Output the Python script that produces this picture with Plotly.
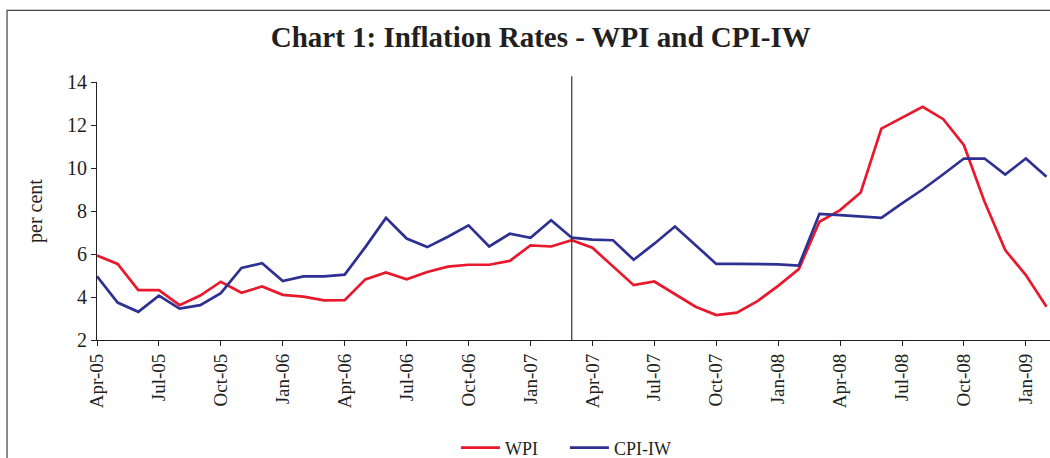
import plotly.graph_objects as go

months = ["Apr-05","May-05","Jun-05","Jul-05","Aug-05","Sep-05","Oct-05","Nov-05","Dec-05",
          "Jan-06","Feb-06","Mar-06","Apr-06","May-06","Jun-06","Jul-06","Aug-06","Sep-06","Oct-06","Nov-06","Dec-06",
          "Jan-07","Feb-07","Mar-07","Apr-07","May-07","Jun-07","Jul-07","Aug-07","Sep-07","Oct-07","Nov-07","Dec-07",
          "Jan-08","Feb-08","Mar-08","Apr-08","May-08","Jun-08","Jul-08","Aug-08","Sep-08","Oct-08","Nov-08","Dec-08",
          "Jan-09","Feb-09"]

wpi = [5.93, 5.54, 4.32, 4.32, 3.62, 4.07, 4.71, 4.20, 4.49,
       4.10, 4.02, 3.84, 3.85, 4.82, 5.14, 4.82, 5.16, 5.41, 5.50, 5.50, 5.68,
       6.40, 6.35, 6.64, 6.29, 5.44, 4.55, 4.72, 4.14, 3.55, 3.16, 3.27, 3.81,
       4.52, 5.30, 7.50, 8.04, 8.86, 11.83, 12.34, 12.85, 12.27, 11.06, 8.43, 6.18,
       5.02, 3.55]

cpi_iw = [4.96, 3.74, 3.31, 4.06, 3.46, 3.62, 4.18, 5.35, 5.57,
          4.74, 4.96, 4.96, 5.04, 6.32, 7.68, 6.72, 6.32, 6.80, 7.33, 6.35, 6.94,
          6.75, 7.57, 6.76, 6.67, 6.64, 5.73, 6.48, 7.28, 6.41, 5.54, 5.54, 5.54,
          5.52, 5.46, 7.87, 7.81, 7.76, 7.68, 8.35, 9.00, 9.71, 10.44, 10.44, 9.70,
          10.44, 9.59]

tick_labels = months[::3]
marker_month = "Mar-07"

idx = list(range(len(months)))
tick_idx = idx[::3]

RED = "#E8192C"
BLUE = "#2E3192"
FONT = "Liberation Serif"
TXT = "#231F20"

fig = go.Figure()
fig.add_trace(go.Scatter(x=idx, y=wpi, mode="lines", name="WPI",
                         line=dict(color=RED, width=2.7)))
fig.add_trace(go.Scatter(x=idx, y=cpi_iw, mode="lines", name="CPI-IW",
                         line=dict(color=BLUE, width=2.7)))

mi = months.index(marker_month)
fig.add_shape(type="line", xref="x", yref="paper", x0=mi, x1=mi, y0=0, y1=1.022,
              line=dict(color="#333333", width=1.2))

# outer frame
fig.add_shape(type="rect", xref="paper", yref="paper", x0=-0.0944, x1=1.05, y0=-0.6, y1=1.2776,
              line=dict(color="#444444", width=1.2), fillcolor="rgba(0,0,0,0)", layer="below")

fig.update_layout(
    width=1050, height=458,
    margin=dict(l=97, r=0, t=82, b=118, autoexpand=False),
    paper_bgcolor="white", plot_bgcolor="white",
    font=dict(family=FONT, color=TXT, size=19),
    title=dict(text="<b>Chart 1: Inflation Rates - WPI and CPI-IW</b>",
               x=0.515, xanchor="center", y=0.919, yanchor="middle",
               font=dict(family=FONT, size=29, color=TXT)),
    showlegend=True,
    legend=dict(orientation="h", x=0.491, xanchor="center", y=-0.418, yanchor="middle",
                itemwidth=39, entrywidth=55,
                font=dict(family=FONT, size=18), bgcolor="rgba(0,0,0,0)"),
    xaxis=dict(range=[0, 46.17], tickmode="array", tickvals=tick_idx, ticktext=tick_labels,
               tickangle=-90, showgrid=False, zeroline=False, showline=True, automargin=False,
               linecolor=TXT, linewidth=1.2, ticks="outside", ticklen=5,
               tickcolor=TXT, tickfont=dict(family=FONT, size=19)),
    yaxis=dict(range=[2, 14], dtick=2, showgrid=False, zeroline=False, showline=True, automargin=False,
               linecolor=TXT, linewidth=1.2, ticks="outside", ticklen=5,
               tickcolor=TXT, tickfont=dict(family=FONT, size=20),
               title=dict(text="per cent", font=dict(family=FONT, size=20), standoff=18)),
)

fig.write_html("out.html", config={"displayModeBar": False},
               post_script="document.body.style.margin='0';")
